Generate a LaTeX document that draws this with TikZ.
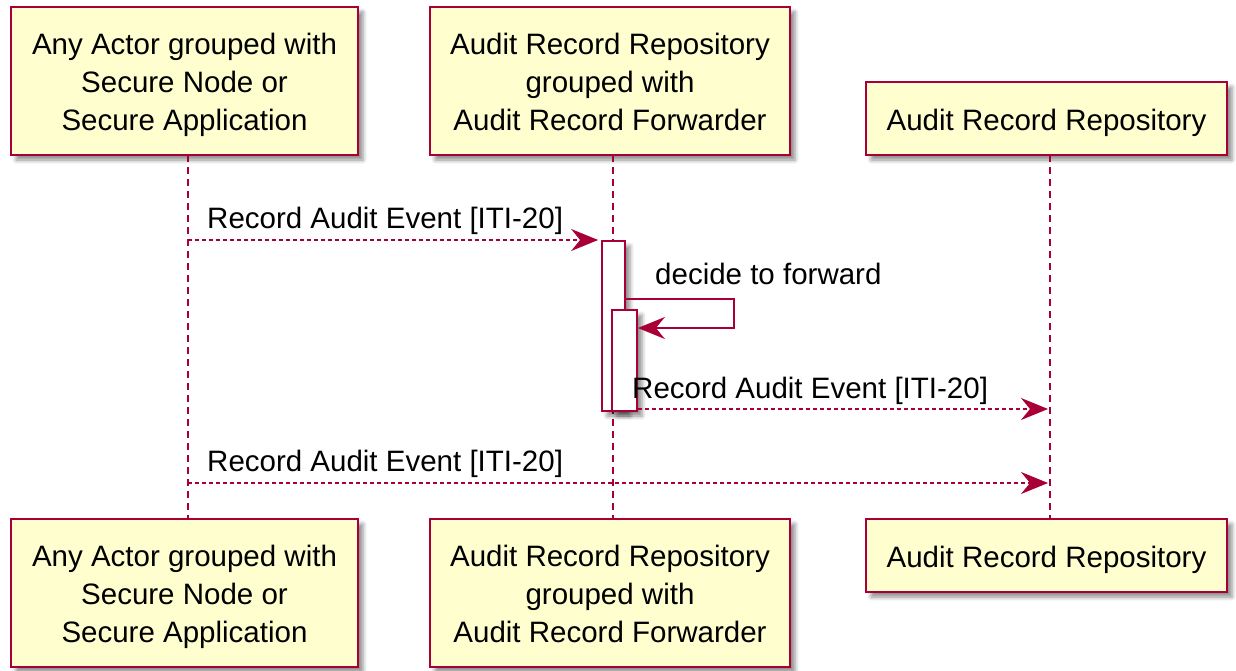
\documentclass[tikz,border=0pt]{standalone}
\usepackage{fontspec}
\setmainfont{Liberation Sans}
\usetikzlibrary{arrows.meta,shadows,shadows.blur}
\definecolor{pborder}{HTML}{A80036}
\definecolor{pfill}{HTML}{FEFECE}
\begin{document}
\begin{tikzpicture}[x=1pt,y=-1pt,
  actor/.style={draw=pborder, fill=pfill, line width=2.2pt, inner sep=0pt,
    blur shadow={shadow xshift=5pt, shadow yshift=-5pt, shadow blur radius=4pt, shadow opacity=45}},
  atext/.style={align=center, inner sep=0pt, font=\fontsize{29.5}{38}\selectfont},
  actbar/.style={draw=pborder, fill=white, line width=1.8pt, inner sep=0pt,
    blur shadow={shadow xshift=5pt, shadow yshift=-5pt, shadow blur radius=4pt, shadow opacity=45}},
  lifeline/.style={draw=pborder, line width=1.6pt, dash pattern=on 7pt off 5pt},
  msg/.style={draw=pborder, line width=1.5pt, dash pattern=on 4pt off 3pt,
    -{Stealth[length=27pt,width=22pt,inset=9pt]}},
  selfmsg/.style={draw=pborder, line width=1.5pt,
    -{Stealth[length=27pt,width=22pt,inset=9pt]}},
  lbl/.style={anchor=base west, inner sep=0pt, font=\fontsize{29.5}{36}\selectfont}
]
\useasboundingbox (0,0) rectangle (1236,671);
% actors top
\node[actor, minimum width=347pt, minimum height=148pt] (a1t) at (184.5,81) {};
\node[atext] (a1tt) at (184.5,84.5) {Any Actor grouped with\\Secure Node or\\Secure Application};
\node[actor, minimum width=360pt, minimum height=148pt] (a2t) at (610,81) {};
\node[atext] (a2tt) at (610,81.5) {Audit Record Repository\\grouped with\\Audit Record Forwarder};
\node[actor, minimum width=361pt, minimum height=73pt] (a3t) at (1046.5,118.5) {};
\node[atext] (a3tt) at (1046.5,123) {Audit Record Repository};
% actors bottom
\node[actor, minimum width=347pt, minimum height=148pt] (a1b) at (184.5,593) {};
\node[atext] (a1bt) at (184.5,596.5) {Any Actor grouped with\\Secure Node or\\Secure Application};
\node[actor, minimum width=360pt, minimum height=148pt] (a2b) at (610,593) {};
\node[atext] (a2bt) at (610,593.5) {Audit Record Repository\\grouped with\\Audit Record Forwarder};
\node[actor, minimum width=361pt, minimum height=73pt] (a3b) at (1046.5,555.5) {};
\node[atext] (a3bt) at (1046.5,560) {Audit Record Repository};
% lifelines
\coordinate (l1t) at (188,155); \coordinate (l1b) at (188,519);
\coordinate (l2t) at (613,155); \coordinate (l2b) at (613,519);
\coordinate (l3t) at (1050,155); \coordinate (l3b) at (1050,519);
\draw[lifeline] (l1t) -- (l1b);
\draw[lifeline] (l2t) -- (l2b);
\draw[lifeline] (l3t) -- (l3b);
% activation bars
\node[actbar, minimum width=23pt, minimum height=170pt] (act1) at (613.5,326) {};
\node[actbar, minimum width=25pt, minimum height=101pt] (act2) at (624.5,360.5) {};
% message 1
\coordinate (m1s) at (188,240);
\draw[msg] (m1s) -- ([xshift=-3pt]act1.west |- m1s);
\node[lbl] (t1) at (207,228) {Record Audit Event [ITI-20]};
% self message
\coordinate (s1) at (734,299);
\coordinate (s2) at (734,328);
\draw[selfmsg] (act1.east |- s1) -- (s1) -- (s2) -- (act2.east |- s2);
\node[lbl] (t2) at (655,284) {decide to forward};
% message 3
\coordinate (m3e) at (1048,409);
\draw[msg] (act2.east |- m3e) -- (m3e);
\node[lbl] (t3) at (632,398) {Record Audit Event [ITI-20]};
% message 4
\coordinate (m4s) at (188,483);
\coordinate (m4e) at (1048,483);
\draw[msg] (m4s) -- (m4e);
\node[lbl] (t4) at (207,471) {Record Audit Event [ITI-20]};
\end{tikzpicture}
\end{document}
